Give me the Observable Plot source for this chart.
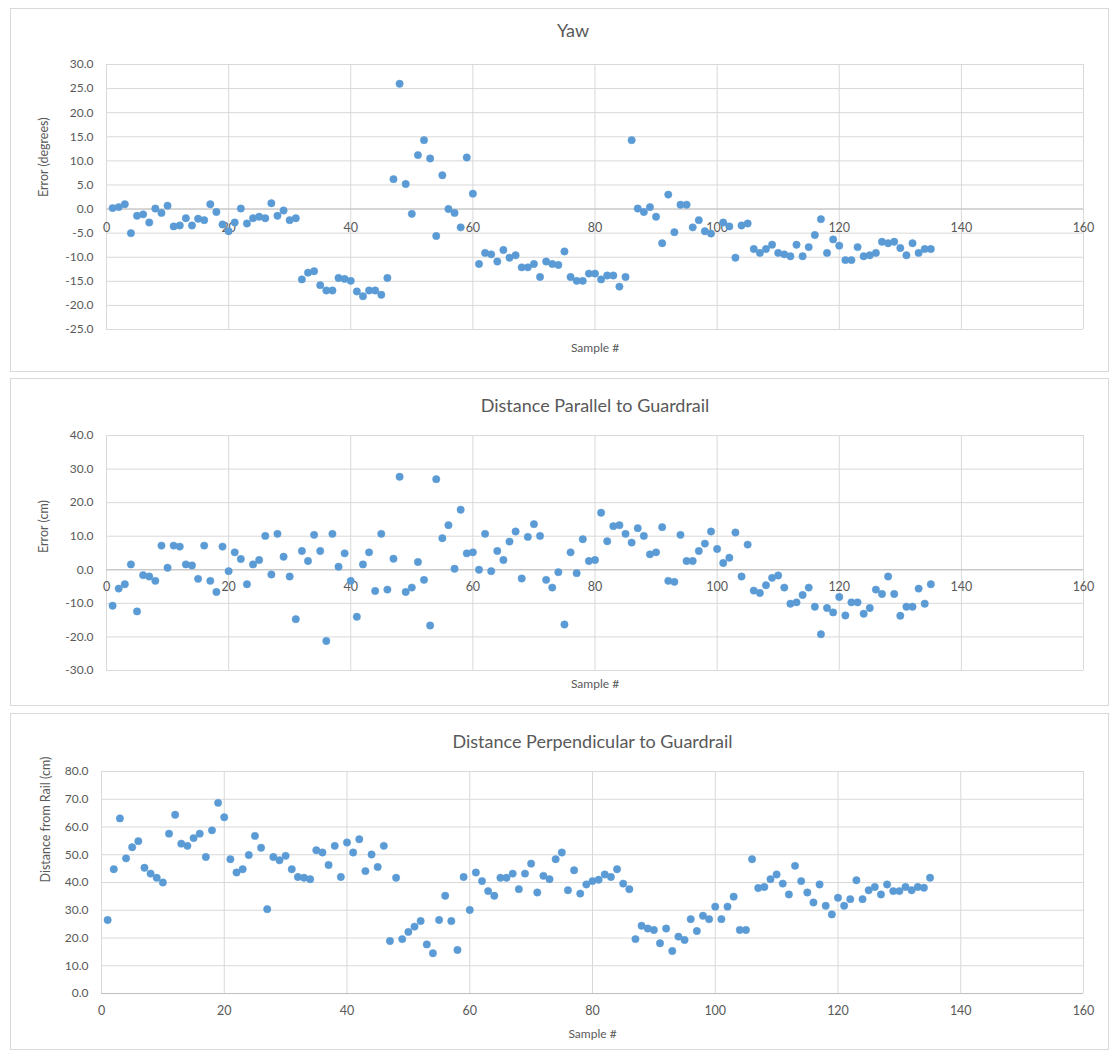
<!DOCTYPE html>
<html><head><meta charset="utf-8">
<script src="https://cdn.jsdelivr.net/npm/d3@7"></script>
<script src="https://cdn.jsdelivr.net/npm/@observablehq/plot@0.6"></script>
<style>
body{margin:0;background:#fff;font-family:Lato,"Open Sans",sans-serif;}
.panel{position:absolute;left:10px;width:1099px;border:1px solid #d9d9d9;box-sizing:border-box;background:#fff;}
.panel svg{position:absolute;left:0;top:0;}
</style></head><body>
<div id="p1" class="panel" style="top:8px;height:364px"></div>
<div id="p2" class="panel" style="top:378px;height:328px"></div>
<div id="p3" class="panel" style="top:713px;height:337px"></div>
<script>
const samples = d3.range(1, 136);
const xTicks = [0, 20, 40, 60, 80, 100, 120, 140, 160];

const yawTicks = [30, 25, 20, 15, 10, 5, 0, -5, -10, -15, -20, -25];
const yaw = [
  0.2, 0.4, 1.0, -5.0, -1.4, -1.1, -2.8, 0.1, -0.8, 0.7,
  -3.6, -3.4, -1.9, -3.4, -2.0, -2.3, 1.0, -0.6, -3.2, -4.6,
  -2.8, 0.1, -3.0, -1.9, -1.6, -1.9, 1.2, -1.4, -0.3, -2.3,
  -1.9, -14.6, -13.2, -12.9, -15.8, -16.9, -16.9, -14.3, -14.5, -14.9,
  -17.1, -18.1, -16.9, -16.9, -17.8, -14.3, 6.2, 26.0, 5.2, -1.0,
  11.2, 14.3, 10.5, -5.6, 7.0, 0.0, -0.8, -3.8, 10.7, 3.2,
  -11.4, -9.1, -9.4, -10.9, -8.5, -10.1, -9.6, -12.1, -12.1, -11.4,
  -14.1, -10.9, -11.4, -11.6, -8.8, -14.1, -14.9, -14.9, -13.4, -13.4,
  -14.6, -13.8, -13.8, -16.1, -14.1, 14.3, 0.1, -0.6, 0.4, -1.6,
  -7.1, 3.0, -4.8, 0.9, 0.9, -3.8, -2.3, -4.6, -5.1, null,
  -2.8, -3.6, -10.1, -3.4, -3.0, -8.3, -9.1, -8.3, -7.4, -9.1,
  -9.4, -9.8, -7.4, -9.8, -7.9, -5.4, -2.1, -9.1, -6.3, -7.6,
  -10.6, -10.6, -7.9, -9.8, -9.6, -9.1, -6.8, -7.1, -6.8, -8.1,
  -9.6, -7.1, -9.1, -8.3, -8.3
];

const parTicks = [40, 30, 20, 10, 0, -10, -20, -30];
const parallel = [
  -10.7, -5.6, -4.3, 1.6, -12.4, -1.6, -2.0, -3.3, 7.2, 0.6,
  7.2, 6.9, 1.6, 1.3, -2.7, 7.2, -3.3, -6.6, 6.9, -0.4,
  5.2, 3.2, -4.3, 1.6, 2.9, 10.1, -1.4, 10.7, 3.9, -2.0,
  -14.7, 5.6, 2.6, 10.4, 5.6, -21.2, 10.7, 0.9, 4.9, -3.3,
  -14.0, 1.6, 5.2, -6.3, 10.7, -5.9, 3.3, 27.7, -6.6, -5.3,
  2.3, -3.0, -16.6, 27.0, 9.4, 13.3, 0.3, 17.9, 4.9, 5.2,
  0.0, 10.7, -0.4, 5.6, 2.9, 8.4, 11.4, -2.6, 9.8, 13.6,
  10.1, -3.0, -5.3, -0.7, -16.3, 5.2, -1.0, 9.1, 2.6, 2.9,
  17.0, 8.5, 13.0, 13.3, 10.7, 8.1, 12.4, 10.1, 4.6, 5.2,
  12.7, -3.3, -3.6, 10.4, 2.6, 2.6, 5.6, 7.8, 11.4, 6.2,
  2.0, 3.6, 11.1, -2.0, 7.5, -6.2, -6.9, -4.6, -2.4, -1.7,
  -5.3, -10.1, -9.7, -7.5, -5.3, -11.0, -19.2, -11.4, -12.7, -8.1,
  -13.6, -9.7, -9.7, -13.1, -11.4, -5.9, -7.2, -2.0, -7.2, -13.7,
  -11.0, -11.0, -5.6, -10.1, -4.3
];

const perpTicks = [80, 70, 60, 50, 40, 30, 20, 10, 0];
const perpendicular = [
  26.5, 44.8, 63.1, 48.7, 52.7, 54.9, 45.3, 43.2, 41.7, 40.0,
  57.6, 64.4, 54.0, 53.2, 56.0, 57.6, 49.2, 58.8, 68.7, 63.5,
  48.4, 43.6, 44.8, 49.9, 56.8, 52.5, 30.4, 49.2, 48.0, 49.6,
  44.8, 42.0, 41.7, 41.2, 51.6, 50.8, 46.3, 53.2, 42.0, 54.4,
  50.8, 55.6, 44.1, 50.1, 45.6, 53.2, 18.9, 41.7, 19.6, 22.2,
  24.1, 26.1, 17.7, 14.5, 26.5, 35.2, 26.1, 15.7, 42.0, 30.1,
  43.6, 40.5, 36.9, 35.2, 41.7, 41.7, 43.2, 37.6, 43.2, 46.8,
  36.4, 42.4, 41.2, 48.4, 50.8, 37.2, 44.4, 36.0, 39.3, 40.5,
  41.0, 42.9, 42.0, 44.8, 39.6, 37.6, 19.6, 24.4, 23.4, 22.9,
  18.1, 23.4, 15.3, 20.5, 19.3, 26.8, 22.5, 28.0, 26.8, 31.3,
  26.8, 31.3, 34.9, 22.9, 22.9, 48.4, 38.0, 38.4, 41.2, 42.9,
  39.6, 35.7, 46.0, 40.5, 36.4, 32.8, 39.3, 31.6, 28.5, 34.5,
  31.6, 34.0, 40.8, 34.0, 37.2, 38.4, 35.7, 39.3, 36.9, 36.9,
  38.4, 37.2, 38.4, 38.1, 41.7
];

const FONT = "Lato, 'Open Sans', sans-serif";
const TXT = "#595959";
const GRID = "#d9d9d9";
const DOT = "#5b9bd5";

function panel(el, cfg) {
  const rows = samples.map((s, i) => ({sample: s, value: cfg.values[i]}));
  const yMin = d3.min(cfg.ticks), yMax = d3.max(cfg.ticks);
  const base = Math.max(0, yMin);
  const chart = Plot.plot({
    width: cfg.width, height: cfg.height,
    marginLeft: cfg.ml, marginRight: cfg.mr, marginTop: cfg.mt, marginBottom: cfg.mb,
    style: {background: "transparent", color: TXT, fontFamily: FONT, fontSize: "12px"},
    x: {domain: [0, 160], axis: null},
    y: {domain: [yMin, yMax]},
    marks: [
      Plot.gridX(xTicks, {stroke: GRID, strokeOpacity: 1, strokeWidth: 1}),
      Plot.gridY(cfg.ticks, {stroke: GRID, strokeOpacity: 1, strokeWidth: 1}),
      Plot.ruleY([base], {stroke: "#bfbfbf", strokeWidth: 1}),
      Plot.axisY(cfg.ticks, {tickSize: 0, tickPadding: 13, tickFormat: d => d.toFixed(1), label: null, fill: TXT, fontSize: 12}),
      Plot.text(xTicks, {x: d => d, y: () => base, dy: cfg.xdy, text: d => String(d), fill: TXT, fontSize: 12.5}),
      Plot.dot(rows, {x: "sample", y: "value", r: 3.7, fill: DOT, stroke: DOT, strokeWidth: 0.5}),
      Plot.text([cfg.title], {frameAnchor: "top", dx: cfg.tdx, dy: cfg.tdy, text: d => d, fontSize: 18, fill: TXT}),
      Plot.text([cfg.ylabel], {frameAnchor: "left", dx: cfg.ydx, rotate: -90, text: d => d, fontSize: 12.5, fill: TXT}),
      Plot.text(["Sample #"], {frameAnchor: "bottom", dy: cfg.sdy, text: d => d, fontSize: 12, fill: TXT})
    ]
  });
  document.getElementById(el).appendChild(chart);
}

panel("p1", {values: yaw, ticks: yawTicks, title: "Yaw", ylabel: "Error (degrees)",
  width: 1097, height: 362, ml: 95, mr: 25, mt: 55, mb: 42, xdy: 19, tdx: -22, tdy: -40, ydx: -63, sdy: 22});
panel("p2", {values: parallel, ticks: parTicks, title: "Distance Parallel to Guardrail", ylabel: "Error (cm)",
  width: 1097, height: 326, ml: 95, mr: 25, mt: 56, mb: 35, xdy: 17, tdx: 0, tdy: -36, ydx: -63, sdy: 17});
panel("p3", {values: perpendicular, ticks: perpTicks, title: "Distance Perpendicular to Guardrail", ylabel: "Distance from Rail (cm)",
  width: 1097, height: 335, ml: 90, mr: 25, mt: 57, mb: 56, xdy: 17, tdx: 0, tdy: -36, ydx: -56, sdy: 44});
</script>
</body></html>
